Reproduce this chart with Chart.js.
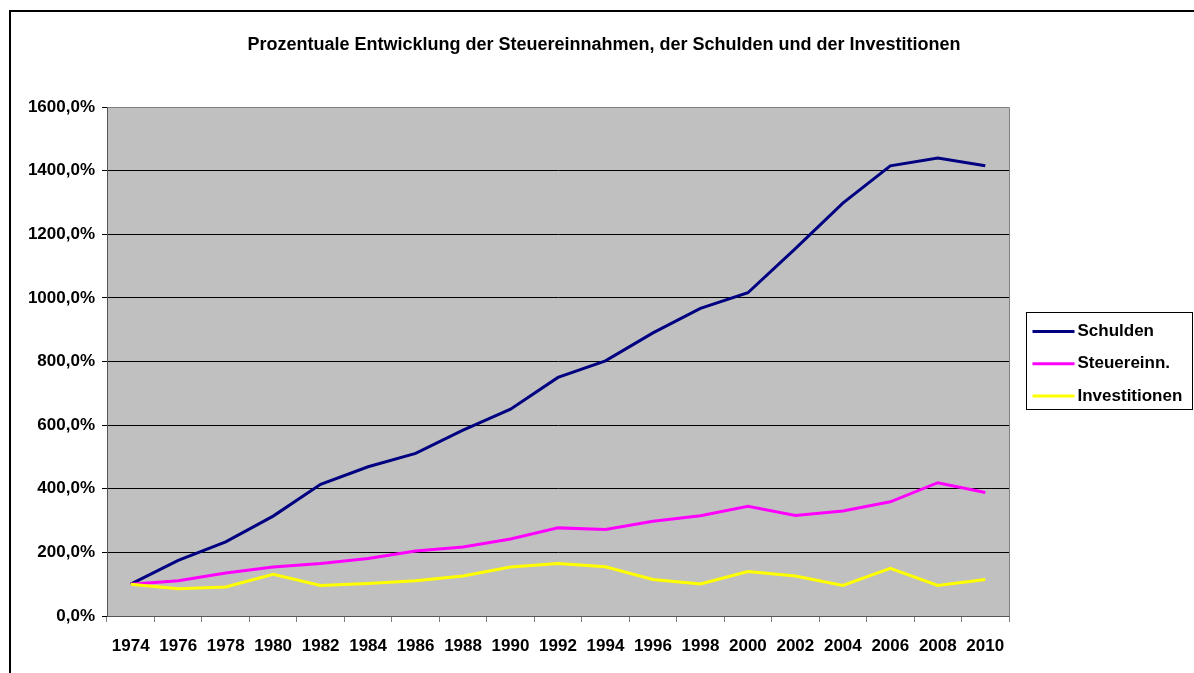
<!DOCTYPE html>
<html>
<head>
<meta charset="utf-8">
<script src="https://cdn.jsdelivr.net/npm/chart.js@4"></script>
<style>
  html, body { margin: 0; padding: 0; background: #fff; overflow: hidden; }
  #wrap { position: relative; width: 1194px; height: 673px; }
  canvas { position: absolute; left: 0; top: 0; }
</style>
</head>
<body>
<div id="wrap"><canvas id="c" width="1194" height="673"></canvas></div>
<script>
const categories = ['1974','1976','1978','1980','1982','1984','1986','1988','1990','1992','1994','1996','1998','2000','2002','2004','2006','2008','2010'];
const schulden = [100, 175, 233, 314, 414, 469, 511, 584, 650, 750, 802, 890, 967, 1016, 1155, 1298, 1415, 1440, 1415];
const steuereinn = [100, 111, 135, 154, 165, 181, 204, 217, 242, 277, 272, 298, 315, 345, 316, 330, 359, 419, 388];
const investitionen = [100, 86, 91, 131, 96, 102, 111, 126, 154, 165, 155, 115, 101, 140, 126, 96, 150, 96, 115];
const seriesNames = ['Schulden', 'Steuereinn.', 'Investitionen'];
const titleText = 'Prozentuale Entwicklung der Steuereinnahmen, der Schulden und der Investitionen';

const FONT = '"Liberation Sans", Arial, Helvetica, sans-serif';

const frame = {
  id: 'frame',
  beforeDraw(chart) {
    const ctx = chart.ctx, a = chart.chartArea;
    ctx.save();
    ctx.fillStyle = '#C0C0C0';
    ctx.fillRect(a.left, a.top, a.right - a.left, a.bottom - a.top);
    ctx.restore();
  },
  afterDatasetsDraw(chart) {
    const ctx = chart.ctx, a = chart.chartArea;
    ctx.save();
    ctx.strokeStyle = '#808080';
    ctx.lineWidth = 1;
    ctx.beginPath();
    ctx.moveTo(Math.round(a.left) + 0.5, Math.round(a.top) + 0.5);
    ctx.lineTo(Math.round(a.right) + 0.5, Math.round(a.top) + 0.5);
    ctx.lineTo(Math.round(a.right) + 0.5, Math.round(a.bottom) + 0.5);
    ctx.stroke();
    ctx.restore();
  },
  afterDraw(chart) {
    const ctx = chart.ctx, a = chart.chartArea;
    ctx.save();
    // outer chart border
    ctx.strokeStyle = '#000';
    ctx.lineWidth = 2;
    ctx.strokeRect(10, 11, 1400, 1000);
    // legend
    const bx = Math.round(a.right) + 17.5;
    const bw = 166, bh = 97;
    const midY = (a.top + a.bottom) / 2 - 1;
    const by = Math.round(midY - bh / 2) + 0.5;
    ctx.lineWidth = 1;
    ctx.strokeStyle = '#000';
    ctx.fillStyle = '#fff';
    ctx.fillRect(bx, by, bw, bh);
    ctx.strokeRect(bx, by, bw, bh);
    const rowGap = 32.2;
    chart.data.datasets.forEach((ds, i) => {
      const y = by + 19 + i * rowGap;
      ctx.strokeStyle = ds.borderColor;
      ctx.lineWidth = 3;
      ctx.beginPath();
      ctx.moveTo(bx + 6, y);
      ctx.lineTo(bx + 48, y);
      ctx.stroke();
      ctx.fillStyle = '#000';
      ctx.font = 'bold 17px ' + FONT;
      ctx.textBaseline = 'middle';
      ctx.textAlign = 'left';
      ctx.fillText(ds.label, bx + 51, y);
    });
    ctx.restore();
  }
};

new Chart(document.getElementById('c'), {
  type: 'line',
  data: {
    labels: categories,
    datasets: [
      { label: seriesNames[0], data: schulden, borderColor: '#000080', backgroundColor: '#000080', borderWidth: 3, pointRadius: 0, tension: 0, order: 3 },
      { label: seriesNames[1], data: steuereinn, borderColor: '#FF00FF', backgroundColor: '#FF00FF', borderWidth: 3, pointRadius: 0, tension: 0, order: 2 },
      { label: seriesNames[2], data: investitionen, borderColor: '#FFFF00', backgroundColor: '#FFFF00', borderWidth: 3, pointRadius: 0, tension: 0, order: 1 }
    ]
  },
  options: {
    responsive: false,
    animation: false,
    devicePixelRatio: 1,
    layout: { padding: { left: 14, right: 0, top: 0, bottom: 0 } },
    plugins: {
      legend: { display: false },
      tooltip: { enabled: false },
      title: {
        display: true,
        text: titleText,
        color: '#000',
        font: { family: FONT, size: 18, weight: 'bold' },
        padding: { top: 34, bottom: 51.4 }
      }
    },
    scales: {
      x: {
        type: 'category',
        offset: true,
        grid: { display: true, drawOnChartArea: false, drawTicks: true, tickLength: 6, color: '#808080', offset: true },
        border: { display: true, color: '#555', width: 1 },
        ticks: { color: '#000', font: { family: FONT, size: 17, weight: 'bold' }, padding: 14, maxRotation: 0, autoSkip: false },
        afterFit(s) { s.height = 57; }
      },
      y: {
        min: 0, max: 1600,
        ticks: {
          stepSize: 200,
          color: '#000',
          font: { family: FONT, size: 17, weight: 'bold' },
          padding: 7,
          callback: v => v.toFixed(1).replace('.', ',') + '%'
        },
        grid: {
          color: ctx => (ctx.tick && ctx.tick.value === 1600) ? '#808080' : '#000',
          tickColor: '#000',
          tickLength: 5,
          lineWidth: 1
        },
        border: { display: true, color: '#555', width: 1 },
        afterFit(s) { s.width = 93; }
      },
      y2: {
        position: 'right',
        min: 0, max: 1600,
        grid: { display: false, drawOnChartArea: false },
        border: { display: false },
        ticks: { display: false },
        afterFit(s) { s.width = 185; }
      }
    }
  },
  plugins: [frame]
});
</script>
</body>
</html>
